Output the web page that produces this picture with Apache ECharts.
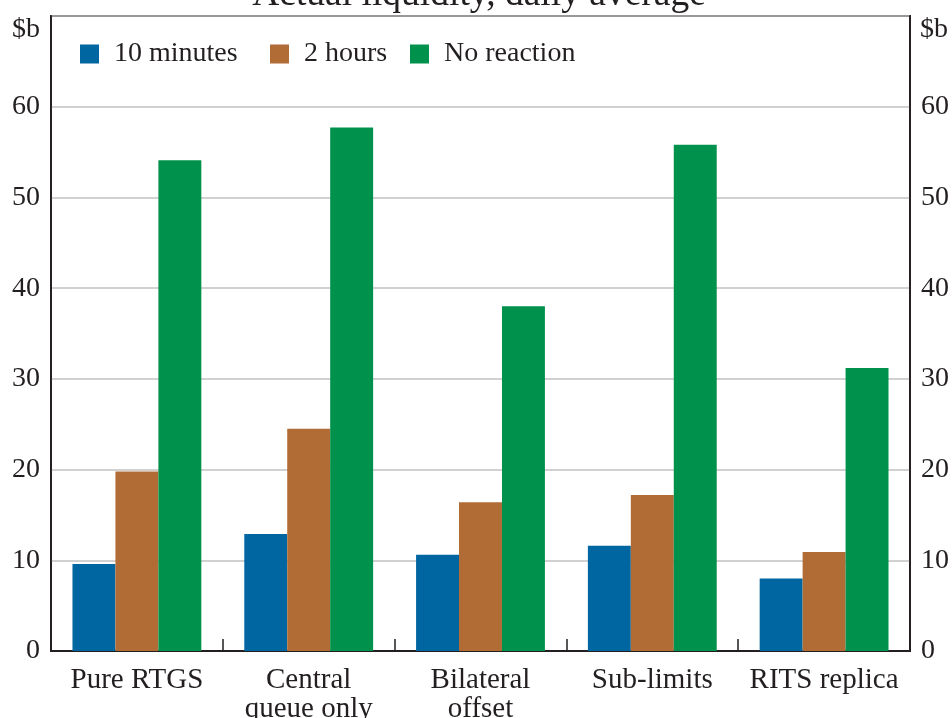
<!DOCTYPE html>
<html>
<head>
<meta charset="utf-8">
<script src="https://cdn.jsdelivr.net/npm/echarts@6/dist/echarts.min.js"></script>
<style>
html,body{margin:0;padding:0;background:#fff;overflow:hidden;}
#chart{width:952px;height:718px;}
</style>
</head>
<body>
<div id="chart"></div>
<script>
var categories = ['Pure RTGS', 'Central\nqueue only', 'Bilateral\noffset', 'Sub-limits', 'RITS replica'];
var seriesNames = ['10 minutes', '2 hours', 'No reaction'];
var tenMinutes = [9.6, 12.9, 10.6, 11.6, 8.0];
var twoHours = [19.8, 24.5, 16.4, 17.2, 10.9];
var noReaction = [54.1, 57.7, 38.0, 55.8, 31.2];
var yTicks = [0, 10, 20, 30, 40, 50, 60];
var titleText = 'Actual liquidity, daily average';
var unitLabel = '$b';

var FONT = "'Liberation Serif', 'Times New Roman', serif";
var TXT = '#231f20';
var colors = ['#0066A1', '#B16B34', '#00924C'];

var chart = echarts.init(document.getElementById('chart'), null, {renderer: 'canvas'});

function yAxisCfg(pos) {
  return {
    type: 'value', position: pos, min: 0, max: 70, interval: 10,
    axisLine: {show: true, lineStyle: {color: TXT, width: 1.8}},
    axisTick: {show: false},
    splitLine: {show: pos === 'left', lineStyle: {color: '#c2c2c2', width: 1.5}},
    axisLabel: {
      margin: 11, color: TXT, fontFamily: FONT, fontSize: 28,
      formatter: function (v) { return yTicks.indexOf(v) >= 0 ? String(v) : ''; }
    }
  };
}

function legendCfg(i, left) {
  return {
    data: [seriesNames[i]], left: left, top: 35,
    itemWidth: 19, itemHeight: 19, icon: 'rect',
    textStyle: {color: TXT, fontFamily: FONT, fontSize: 28, padding: [0, 0, 0, 10]}
  };
}

var option = {
  animation: false,
  backgroundColor: '#fff',
  grid: {left: 51, right: 42, top: 16, bottom: 67, show: true, borderColor: TXT, borderWidth: 1.8, outerBoundsMode: 'none', containLabel: false},
  legend: [legendCfg(0, 75), legendCfg(1, 265), legendCfg(2, 405)],
  xAxis: {
    type: 'category', data: categories, boundaryGap: true,
    axisLine: {show: true, lineStyle: {color: TXT, width: 1.8}},
    axisTick: {show: true, inside: true, length: 12, alignWithLabel: false, lineStyle: {color: TXT, width: 1.5}},
    axisLabel: {margin: 15, color: TXT, fontFamily: FONT, fontSize: 29, lineHeight: 29, interval: 0}
  },
  yAxis: [yAxisCfg('left'), yAxisCfg('right')],
  graphic: [
    {type: 'text', x: 479, y: -5, style: {text: titleText, fill: TXT, font: '37.5px ' + FONT, textAlign: 'center', textVerticalAlign: 'middle'}},
    {type: 'text', x: 40, y: 30, style: {text: unitLabel, fill: TXT, font: '28px ' + FONT, textAlign: 'right', textVerticalAlign: 'middle'}},
    {type: 'text', x: 920, y: 30, style: {text: unitLabel, fill: TXT, font: '28px ' + FONT, textAlign: 'left', textVerticalAlign: 'middle'}}
  ],
  series: [
    {name: seriesNames[0], type: 'bar', data: tenMinutes, itemStyle: {color: colors[0]}, barGap: '0%', barCategoryGap: '25%'},
    {name: seriesNames[1], type: 'bar', data: twoHours, itemStyle: {color: colors[1]}, barGap: '0%', barCategoryGap: '25%'},
    {name: seriesNames[2], type: 'bar', data: noReaction, itemStyle: {color: colors[2]}, barGap: '0%', barCategoryGap: '25%'}
  ]
};
chart.setOption(option);
</script>
</body>
</html>
